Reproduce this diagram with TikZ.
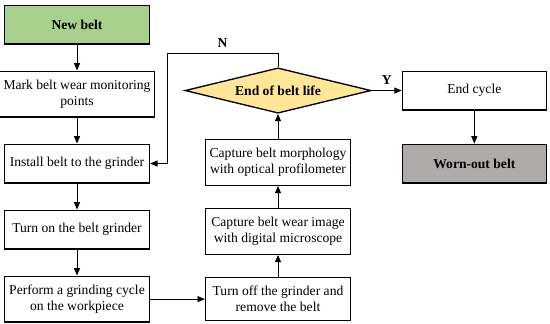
\documentclass[tikz,border=0pt]{standalone}
\usepackage{fontspec}
\setmainfont{Liberation Serif}
\usepackage{xcolor}
\usepackage{tikz}
\usetikzlibrary{arrows.meta,positioning,calc,shapes.geometric}
\definecolor{verde}{HTML}{A9D18E}
\definecolor{amarelo}{HTML}{FFE699}
\definecolor{cinza}{HTML}{AFABAB}

\begin{document}
\begin{tikzpicture}[
  >={Triangle[length=5.5pt,width=4.5pt]}, node distance=19.5pt and 41pt,
  caixa/.style={draw, line width=1pt, align=center, font=\fontsize{10.2pt}{12pt}\selectfont,
                minimum width=108.75pt, minimum height=29pt, inner xsep=3pt, inner ysep=6.5pt, fill=white},
  inicio/.style={caixa, fill=verde, font=\fontsize{10.2pt}{12pt}\selectfont\bfseries},
  final/.style={caixa, fill=cinza, font=\fontsize{10.2pt}{12pt}\selectfont\bfseries},
  decisao/.style={diamond, draw, line width=1pt, fill=amarelo, aspect=4.1,
                  minimum width=139.5pt, minimum height=34pt, inner sep=0pt,
                  font=\fontsize{10.2pt}{12pt}\selectfont\bfseries},
  rotulo/.style={font=\fontsize{10.2pt}{12pt}\selectfont\bfseries},
  seta/.style={->, line width=0.6pt}]

  \useasboundingbox (0,0) rectangle (412.5pt,-243pt);

  % coluna da esquerda
  \node[inicio] (novo) at (57.75pt,-18.4pt) {New belt};
  \node[caixa, below=of novo] (marca) {Mark belt wear monitoring\\ points};
  \node[caixa, below=of marca] (instala) {Install belt to the grinder};
  \node[caixa, below=of instala] (liga) {Turn on the belt grinder};
  \node[caixa, below=of liga] (ciclo) {Perform a grinding cycle\\ on the workpiece};

  % coluna do meio
  \node[caixa, right=of ciclo] (desliga) {Turn off the grinder and\\ remove the belt};
  \node[caixa, above=16.5pt of desliga] (imagem) {Capture belt wear image\\ with digital microscope};
  \node[caixa, above=16.5pt of imagem] (perfil) {Capture belt morphology\\ with optical profilometer};
  \node[decisao, above=18.75pt of perfil] (vida) {End of belt life};

  % coluna da direita
  \node[caixa, minimum width=108pt, right=22.5pt of vida] (fim) {End cycle};
  \node[final, minimum width=108pt, below=24.75pt of fim] (gasta) {Worn-out belt};

  \draw[seta] (novo) -- (marca);
  \draw[seta] (marca) -- (instala);
  \draw[seta] (instala) -- (liga);
  \draw[seta] (liga) -- (ciclo);
  \draw[seta] (ciclo) -- (desliga);
  \draw[seta] (desliga) -- (imagem);
  \draw[seta] (imagem) -- (perfil);
  \draw[seta] (perfil) -- (vida);
  \draw[seta] (vida.north) -- ++(0,10.5pt) -| node[rotulo, pos=0.25, above=1pt] {N}
    ([xshift=12.75pt]instala.east) -- (instala.east);
  \draw[seta] (vida.east) -- node[rotulo, above=1pt] {Y} (fim.west);
  \draw[seta] (fim) -- (gasta);
\end{tikzpicture}
\end{document}
